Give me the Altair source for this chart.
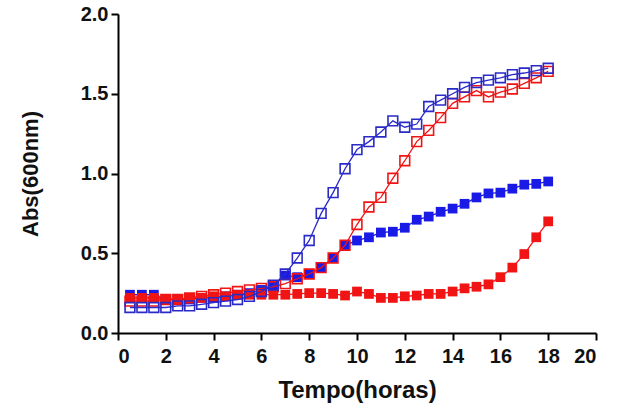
import altair as alt
import pandas as pd

hours = [0.5 * i for i in range(1, 37)]

blue_open = [0.16, 0.16, 0.16, 0.16, 0.17, 0.17, 0.18, 0.19, 0.20, 0.21, 0.23, 0.26,
             0.30, 0.37, 0.47, 0.58, 0.75, 0.88, 1.03, 1.15, 1.20, 1.26, 1.33, 1.29,
             1.31, 1.42, 1.46, 1.50, 1.54, 1.57, 1.585, 1.60, 1.62, 1.63, 1.645, 1.66]
red_open = [0.20, 0.20, 0.20, 0.21, 0.21, 0.22, 0.23, 0.24, 0.25, 0.26, 0.27, 0.28,
            0.29, 0.31, 0.34, 0.37, 0.41, 0.47, 0.55, 0.68, 0.79, 0.85, 0.97, 1.08,
            1.20, 1.27, 1.35, 1.44, 1.48, 1.52, 1.48, 1.51, 1.53, 1.565, 1.60, 1.64]
blue_filled = [0.24, 0.24, 0.24, 0.21, 0.21, 0.21, 0.22, 0.22, 0.23, 0.24, 0.25, 0.27,
               0.30, 0.36, 0.35, 0.37, 0.41, 0.47, 0.55, 0.58, 0.60, 0.63, 0.635, 0.66,
               0.71, 0.73, 0.76, 0.78, 0.81, 0.85, 0.875, 0.88, 0.905, 0.93, 0.935, 0.95]
red_filled = [0.22, 0.22, 0.22, 0.21, 0.21, 0.22, 0.22, 0.23, 0.23, 0.24, 0.24, 0.24,
              0.24, 0.24, 0.245, 0.25, 0.25, 0.245, 0.235, 0.26, 0.245, 0.22, 0.22, 0.23,
              0.235, 0.245, 0.245, 0.26, 0.28, 0.29, 0.305, 0.35, 0.41, 0.495, 0.60, 0.70]

BLUE = "#1a1ae6"
BLUE_DARK = "#2a2ac8"
RED = "#f01414"

x_scale = alt.Scale(domain=[0, 20], nice=False, zero=False)
y_scale = alt.Scale(domain=[0, 2.0], nice=False)

x_axis = alt.Axis(values=list(range(0, 21, 2)), title="Tempo(horas)", grid=False,
                  labelFontSize=20, labelFontWeight="bold", labelColor="#111",
                  titleFontSize=24, titleFontWeight="bold", titleColor="#111",
                  titlePadding=12, labelPadding=6,
                  domainColor="#000", domainWidth=2, tickColor="#000", tickWidth=2, tickSize=7,
                  labelFont="Liberation Sans", titleFont="Liberation Sans")
y_axis = alt.Axis(values=[0, 0.5, 1.0, 1.5, 2.0], format=".1f", title="Abs(600nm)", grid=False,
                  labelFontSize=20, labelFontWeight="bold", labelColor="#111",
                  titleFontSize=22, titleFontWeight="bold", titleColor="#111",
                  titlePadding=38, labelPadding=3,
                  domainColor="#000", domainWidth=2, tickColor="#000", tickWidth=2, tickSize=7,
                  labelFont="Liberation Sans", titleFont="Liberation Sans")

xenc = alt.X("hours:Q", scale=x_scale, axis=x_axis)
yenc = alt.Y("abs:Q", scale=y_scale, axis=y_axis)


def series(values, color, filled):
    df = pd.DataFrame({"hours": hours, "abs": values})
    base = alt.Chart(df)
    line = base.mark_line(color=color, strokeWidth=1.3).encode(x=xenc, y=yenc)
    if filled:
        pts = base.mark_point(shape="square", filled=True, color=color, size=95, opacity=1).encode(x=xenc, y=yenc)
    else:
        pts = base.mark_point(shape="square", filled=False, color=color, size=95,
                              strokeWidth=1.6, opacity=1).encode(x=xenc, y=yenc)
    return line + pts


chart = alt.layer(
    series(blue_filled, BLUE, True),
    series(red_open, RED, False),
    series(red_filled, RED, True),
    series(blue_open, BLUE_DARK, False),
).properties(
    width=478, height=319,
    autosize=alt.AutoSizeParams(type="none"),
    padding={"left": 118, "top": 14, "right": 23, "bottom": 79},
    background="white",
).configure_view(stroke=None)

chart.save("out.html", embed_options={"renderer": "svg", "actions": False})
